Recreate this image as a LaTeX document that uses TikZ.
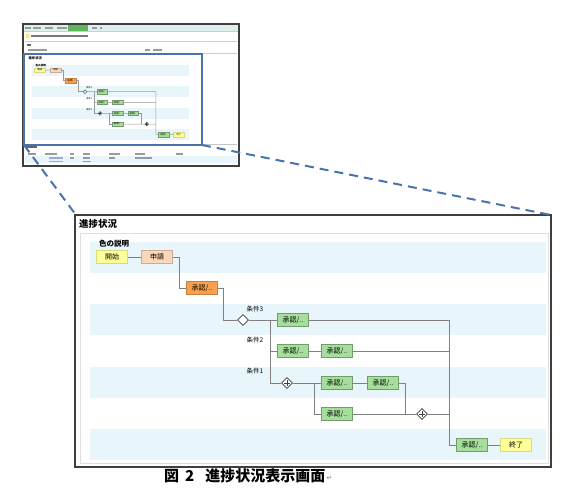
\documentclass[tikz,border=0pt]{standalone}
\usepackage{fontspec}
\setmainfont{Noto Sans CJK JP}
\newfontfamily\symbolfont{DejaVu Sans}
\usetikzlibrary{shapes.geometric}

\definecolor{bandblue}{HTML}{E8F6FC}
\definecolor{linegray}{HTML}{808080}
\definecolor{frameGray}{HTML}{3F3F3F}
\definecolor{hlblue}{HTML}{4A72AC}
\definecolor{startyellow}{HTML}{FFFF99}
\definecolor{applypeach}{HTML}{FCD6B8}
\definecolor{approveorange}{HTML}{F9A04E}
\definecolor{approvegreen}{HTML}{A6DE9C}
\definecolor{tabteal}{HTML}{DDF0EE}
\definecolor{tabgreen}{HTML}{5DB85B}
\definecolor{sepgreen}{HTML}{B8DDB0}
\definecolor{textgray}{HTML}{9A9A9A}
\definecolor{linkblue}{HTML}{9AA6E0}

\tikzset{
  plus width/.store in=\pluswidth, plus width=0.6pt,
  flowbox/.style={draw, minimum width=31pt, minimum height=13pt, inner sep=0pt,
    font=\fontsize{7}{7}\selectfont},
  startbox/.style={flowbox, fill=startyellow, draw=startyellow!85!black},
  applybox/.style={flowbox, fill=applypeach, draw=applypeach!80!black},
  orangebox/.style={flowbox, fill=approveorange, draw=approveorange!80!black},
  greenbox/.style={flowbox, fill=approvegreen, draw=approvegreen!70!black},
  gateway/.style={diamond, draw=frameGray, fill=white, line width=0.7pt,
    minimum size=11pt, inner sep=0pt},
  parallel/.style={gateway, path picture={
    \draw[line width=\pluswidth] (path picture bounding box.center) +(-3pt,0) -- +(3pt,0)
      (path picture bounding box.center) +(0,-3pt) -- +(0,3pt);}},
  link/.style={draw=linegray, line width=0.8pt},
  band/.style={fill=bandblue},
  cond/.style={font=\fontsize{6.5}{6.5}\selectfont},
  heading/.style={font=\fontsize{9.5}{9.5}\selectfont\bfseries, anchor=west, inner sep=0pt},
  legend/.style={font=\fontsize{7.5}{7.5}\selectfont\bfseries, anchor=west, inner sep=0pt},
  frame/.style={draw=frameGray, line width=1.2pt},
  highlight/.style={draw=hlblue, line width=2.2pt},
  zoomline/.style={draw=hlblue, line width=2pt, dash pattern=on 9pt off 6pt},
  bar/.style={fill=textgray},
  caption/.style={font=\fontsize{15}{15}\selectfont\bfseries, inner sep=0pt}
}

% the progress chart, drawn in screen pixels
\newcommand{\progresschart}{%
  \node[heading] (title) at (79,224) {進捗状況};
  \foreach \y in {242,304,367,429}
    \fill[band] (90,\y) rectangle (546,\y+31);
  \node[legend] (legend) at (99,244) {色の説明};
  \node[startbox] (start) at (112,257) {開始};
  \node[applybox] (apply) at (157,257) {申請};
  \node[orangebox] (a1) at (202,288) {承認/..};
  \node[gateway] (x1) at (243,320) {};
  \node[greenbox] (a2) at (293,320) {承認/..};
  \node[greenbox] (a3) at (293,351) {承認/..};
  \node[greenbox] (a4) at (337,351) {承認/..};
  \node[parallel] (p1) at (287,383) {};
  \node[greenbox] (a5) at (337,383) {承認/..};
  \node[greenbox] (a6) at (383,383) {承認/..};
  \node[greenbox] (a7) at (337,414) {承認/..};
  \node[parallel] (p2) at (422,414) {};
  \node[greenbox] (a8) at (472,445) {承認/..};
  \node[startbox] (finish) at (516,445) {終了};
  \node[cond] (c3) at (255,309) {条件3};
  \node[cond] (c2) at (255,340) {条件2};
  \node[cond] (c1) at (255,371) {条件1};
  \coordinate (split) at (270,320);
  \coordinate (fork) at (314,383);
  \coordinate (sync) at (405,414);
  \coordinate (joint) at (449,445);
  \draw[link] (start) -- (apply);
  \draw[link] (apply.east) -- ++(7,0) |- (a1);
  \draw[link] (a1.east) -- ++(6,0) |- (x1);
  \draw[link] (x1) -- (a2);
  \draw[link] (split) |- (p1);
  \draw[link] (split |- a3) -- (a3);
  \draw[link] (a3) -- (a4);
  \draw[link] (a2) -| (joint) -- (a8);
  \draw[link] (a4) -- (a4 -| joint);
  \draw[link] (p1) -- (a5);
  \draw[link] (fork) |- (a7);
  \draw[link] (a5) -- (a6);
  \draw[link] (a6) -| (sync);
  \draw[link] (a7) -- (p2);
  \draw[link] (p2) -- (p2 -| joint);
  \draw[link] (a8) -- (finish);
}

\begin{document}
\begin{tikzpicture}[x=1pt,y=-1pt]
\useasboundingbox (0,0) rectangle (576,501);

% screen thumbnail
\draw[frame, fill=white] (23,24) rectangle (239,166);
\fill[tabteal] (24,25) rectangle (238,30.5);
\foreach \a/\b in {25/31,33/41,45/53,57/67,92/97,100/102}
  \fill[bar] (\a,26.5) rectangle (\b,28.5);
\fill[tabgreen] (68,25) rectangle (88,30.5);
\draw[sepgreen, line width=0.8pt] (24,31) -- (238,31);
\fill[startyellow!80!orange] (26,34) rectangle (29,37.5);
\fill[frameGray!70] (31,34.5) rectangle (88,37);
\draw[sepgreen, line width=0.8pt] (25,41) -- (237,41);
\fill[frameGray!80] (27,43.5) rectangle (31,45.5);
\fill[bar] (28,49) rectangle (47,51);
\fill[bar] (145,49) rectangle (150,51);
\fill[bar] (153,49) rectangle (162,51);
\draw[gray!40, line width=0.6pt] (25,53) -- (237,53);
\begin{scope}[shift={(1.47,-18.4)}, scale=0.344, transform shape, name prefix=mini-,
    plus width=0.3pt, link/.append style={draw=linegray!80, line width=0.5pt},
    gateway/.append style={line width=0.4pt}]
  \progresschart
\end{scope}
\draw[gray!45, line width=0.6pt] (202,144) -- (237,144);
\draw[highlight] (24,54) rectangle (202,145);
\fill[frameGray!80] (25,145.5) rectangle (37,147.5);
\fill[bandblue] (25,155.5) rectangle (237,163);
\foreach \a/\b in {28/36,45/57,70/74,83/90,109/120,135/145,176/183}
  \fill[bar] (\a,153) rectangle (\b,154.5);
\foreach \a/\b in {70/74,83/90,109/115,135/152}
  \fill[bar] (\a,157) rectangle (\b,158.5);
\fill[linkblue] (49,157) rectangle (63,158.5);
\fill[linkblue] (49,160.5) rectangle (63,162);
\fill[bar] (83,160.5) rectangle (91,162);

% zoomed view of the progress panel
\draw[frame, fill=white] (75,215) rectangle (551,467);
\draw[gray!25, line width=0.8pt] (80,233) rectangle (548,463.5);
\progresschart

% zoom lines
\coordinate (hl-sw) at (24,145);
\coordinate (hl-se) at (202,145);
\coordinate (panel-nw) at (76,215);
\coordinate (panel-ne) at (551,215);
\draw[zoomline] (hl-sw) -- (panel-nw);
\draw[zoomline] (hl-se) -- (panel-ne);

% caption
\node[caption, anchor=west] (caption) at (164,476) {図\hspace{6pt}2\hspace{11pt}進捗状況表示画面};
\node[anchor=west, inner sep=0pt, text=gray, font=\symbolfont\fontsize{7}{7}\selectfont]
  (mark) at ([xshift=1pt,yshift=-2pt]caption.east) {↵};
\end{tikzpicture}
\end{document}
